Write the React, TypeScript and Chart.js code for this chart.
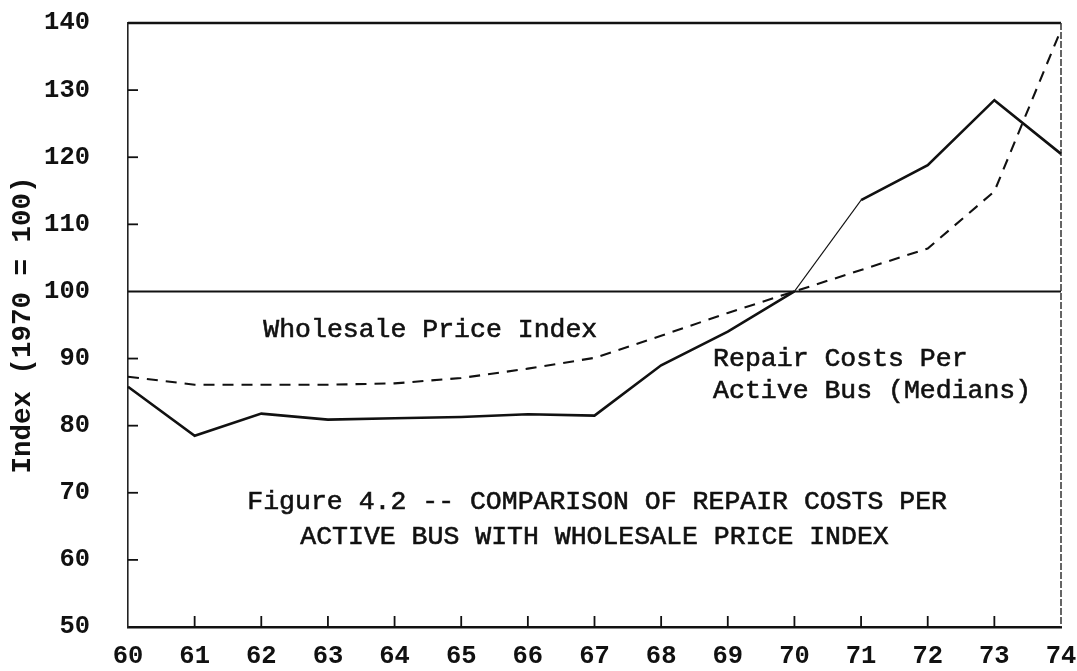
import React, { useEffect, useRef } from 'react';
import { Chart, registerables } from 'chart.js';

Chart.register(...registerables);

const YEARS = ['60', '61', '62', '63', '64', '65', '66', '67', '68', '69', '70', '71', '72', '73', '74'];
const REPAIR_COSTS = [85.8, 78.5, 81.8, 80.9, 81.1, 81.3, 81.7, 81.5, 89.0, 94.0, 100, 113.6, 118.8, 128.5, 120.5];
const WHOLESALE_PRICE = [87.3, 86.1, 86.1, 86.1, 86.3, 87.1, 88.5, 90.1, 93.4, 96.8, 100, 103.2, 106.4, 114.9, 139.0];
const Y_TICKS = [50, 60, 70, 80, 90, 100, 110, 120, 130, 140];
const BASE_INDEX = 100;

const Y_TITLE = 'Index (1970 = 100)';
const WPI_LABEL = 'Wholesale Price Index';
const REPAIR_LABEL = ['Repair Costs Per', 'Active Bus (Medians)'];
const CAPTION = ['Figure 4.2 -- COMPARISON OF REPAIR COSTS PER', 'ACTIVE BUS WITH WHOLESALE PRICE INDEX'];

const MONO = '"Liberation Mono", "DejaVu Sans Mono", monospace';
const INK = '#111';

const decorPlugin = {
  id: 'decor',
  beforeDatasetsDraw(chart: any) {
    const { ctx, chartArea } = chart;
    const xs = chart.scales.x;
    const ys = chart.scales.y;
    ctx.save();
    ctx.strokeStyle = INK;
    // reference line at 100
    const y100 = ys.getPixelForValue(BASE_INDEX);
    ctx.lineWidth = 2;
    ctx.beginPath();
    ctx.moveTo(chartArea.left, y100);
    ctx.lineTo(chartArea.right, y100);
    ctx.stroke();
    // top frame
    ctx.lineWidth = 2.5;
    ctx.beginPath();
    ctx.moveTo(chartArea.left, chartArea.top);
    ctx.lineTo(chartArea.right, chartArea.top);
    ctx.stroke();
    // right frame (faint, broken)
    ctx.lineWidth = 1.5;
    ctx.strokeStyle = '#333';
    ctx.setLineDash([7, 2]);
    ctx.beginPath();
    ctx.moveTo(chartArea.right, chartArea.top);
    ctx.lineTo(chartArea.right, chartArea.bottom);
    ctx.stroke();
    ctx.setLineDash([]);
    ctx.strokeStyle = INK;
    // inward y ticks
    ctx.lineWidth = 1.8;
    Y_TICKS.forEach((v) => {
      if (v === Y_TICKS[0] || v === Y_TICKS[Y_TICKS.length - 1] || v === BASE_INDEX) return;
      const py = ys.getPixelForValue(v);
      ctx.beginPath();
      ctx.moveTo(chartArea.left, py);
      ctx.lineTo(chartArea.left + 10, py);
      ctx.stroke();
    });
    // inward x ticks
    YEARS.forEach((_, i) => {
      if (i === 0 || i === YEARS.length - 1) return;
      const px = xs.getPixelForValue(i);
      ctx.beginPath();
      ctx.moveTo(px, chartArea.bottom);
      ctx.lineTo(px, chartArea.bottom - 11);
      ctx.stroke();
    });
    ctx.restore();
  },
  afterDraw(chart: any) {
    const { ctx, chartArea } = chart;
    const xs = chart.scales.x;
    const ys = chart.scales.y;
    const xAt = (v: number) => xs.getPixelForDecimal((v - 60) / 14);
    ctx.save();
    ctx.fillStyle = INK;
    ctx.strokeStyle = INK;
    ctx.lineWidth = 0.6;
    ctx.textBaseline = 'middle';
    ctx.font = `26.5px ${MONO}`;
    ctx.textAlign = 'left';
    const put = (t: string, x: number, y: number) => {
      ctx.fillText(t, x, y);
      ctx.strokeText(t, x, y);
    };
    put(WPI_LABEL, xAt(62.03), ys.getPixelForValue(94.3));
    put(REPAIR_LABEL[0], xAt(68.78), ys.getPixelForValue(89.9));
    put(REPAIR_LABEL[1], xAt(68.78), ys.getPixelForValue(85.1));
    ctx.textAlign = 'center';
    put(CAPTION[0], xAt(67.04), ys.getPixelForValue(68.6));
    put(CAPTION[1], xAt(67.0), ys.getPixelForValue(63.4));
    // y title
    ctx.font = `bold 27.5px ${MONO}`;
    ctx.translate(23, (chartArea.top + chartArea.bottom) / 2);
    ctx.rotate(-Math.PI / 2);
    ctx.fillText(Y_TITLE, 0, 0);
    ctx.restore();
  },
};

export default function App() {
  const canvasRef = useRef<HTMLCanvasElement | null>(null);

  useEffect(() => {
    if (!canvasRef.current) return;
    const chart = new Chart(canvasRef.current, {
      type: 'line',
      data: {
        labels: YEARS,
        datasets: [
          {
            label: 'Repair Costs Per Active Bus (Medians)',
            data: REPAIR_COSTS,
            borderColor: INK,
            borderWidth: 2.6,
            pointRadius: 0,
            tension: 0,
            segment: {
              borderWidth: (c: any) => (c.p0DataIndex === 10 ? 1.1 : 2.6),
            },
          },
          {
            label: 'Wholesale Price Index',
            data: WHOLESALE_PRICE,
            borderColor: INK,
            borderWidth: 2.1,
            borderDash: [11, 8],
            pointRadius: 0,
            tension: 0,
          },
        ],
      },
      options: {
        animation: false,
        responsive: true,
        maintainAspectRatio: false,
        layout: { padding: { left: 0, top: 23, right: 16, bottom: 0 } },
        plugins: {
          legend: { display: false },
          tooltip: { enabled: false },
          title: { display: false },
        },
        scales: {
          x: {
            type: 'category',
            offset: false,
            grid: { display: false, drawTicks: false },
            border: { display: true, color: INK, width: 2.5 },
            ticks: {
              color: INK,
              font: { family: MONO, size: 25.5, weight: 'bold' },
              padding: 14,
              maxRotation: 0,
              autoSkip: false,
            },
            afterFit: (s: any) => {
              s.height = 44;
              s.paddingLeft = 0;
              s.paddingRight = 0;
            },
          },
          y: {
            type: 'linear',
            min: 50,
            max: 140,
            grid: { display: false, drawTicks: false },
            border: { display: true, color: '#222', width: 1.6 },
            ticks: {
              stepSize: 10,
              color: INK,
              font: { family: MONO, size: 25.5, weight: 'bold' },
              padding: 38,
            },
            afterFit: (s: any) => {
              s.width = 128;
              s.paddingTop = 0;
              s.paddingBottom = 0;
            },
          },
        },
      },
      plugins: [decorPlugin],
    });
    return () => chart.destroy();
  }, []);

  return (
    <div style={{ position: 'fixed', left: 0, top: 0, width: 1077, height: 671, background: '#fff' }}>
      <canvas ref={canvasRef} />
    </div>
  );
}
